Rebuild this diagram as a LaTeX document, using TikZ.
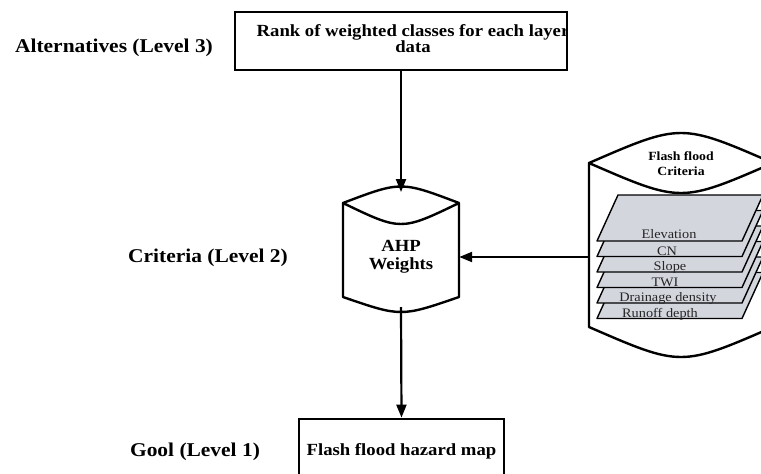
\documentclass[tikz,border=0pt]{standalone}
\usepackage{fontspec}
\setmainfont{Liberation Serif}[FakeStretch=1.1]
\usetikzlibrary{arrows.meta}
\definecolor{plategray}{RGB}{212,214,222}
\tikzset{
  levellabel/.style={font=\bfseries\fontsize{19.5}{22}\selectfont, anchor=base},
  box/.style={draw, line width=2.8pt, inner sep=0pt},
  arr/.style={line width=2.2pt, -{Triangle[length=13pt,width=10pt]}},
  plate/.style={draw, line width=1.4pt, fill=plategray, line join=round},
  platelabel/.style={font=\fontsize{13}{13}\selectfont, anchor=base, text=black!85},
}
\begin{document}
\begin{tikzpicture}[x=1pt,y=-1pt]
\useasboundingbox (0,0) rectangle (761,474);
% level labels
\node[levellabel] (alt) at (114,52) {Alternatives (Level 3)};
\node[levellabel] (crit) at (208,262) {Criteria (Level 2)};
\node[levellabel] (goal) at (195,456) {Gool (Level 1)};

% top box, its text runs into the right border
\begin{scope}
\clip (235,12) rectangle (567,70);
\node[font=\bfseries\fontsize{17}{15.5}\selectfont, align=center] (ranktext) at (413,38.5) {Rank of weighted classes for each layer\\data};
\end{scope}
\node[box, minimum width=332pt, minimum height=58pt] (rank) at (401,41) {};

% AHP cylinder
\coordinate (ahptop) at (401,192);
\coordinate (ahpbot) at (401,307);
\draw[line width=2.4pt, line join=round] (343,203) .. controls (401,181) .. (459,203) .. controls (401,231) .. (343,203) -- (343,297) .. controls (401,317) .. (459,297) -- (459,203);
\node[font=\bfseries\fontsize{17}{18}\selectfont, align=center, minimum width=116pt, inner sep=0pt] (ahp) at (401,257) {AHP\\Weights};

% flash flood criteria cylinder
\draw[line width=2.4pt, line join=round] (589,163) .. controls (681,123) .. (773,163) .. controls (681,203) .. (589,163) -- (589,327) .. controls (681,367) .. (773,327);
\node[font=\bfseries\fontsize{12.5}{15}\selectfont, align=center] (fftitle) at (681,164) {Flash flood\\Criteria};
\coordinate (critout) at (589,257);

% stacked layers, lowest first
\foreach \b in {318.5,303,287.5,272,256.5,241}
  \draw[plate] (597,\b) -- (742,\b) -- (763,\b-46) -- (618,\b-46) -- cycle;
\node[platelabel] (elev) at (669,238) {Elevation};
\node[platelabel] (cn) at (667,255) {CN};
\node[platelabel] (slope) at (670,270.5) {Slope};
\node[platelabel] (twi) at (665,286) {TWI};
\node[platelabel] (drain) at (668,301) {Drainage density};
\node[platelabel] (runoff) at (660,317) {Runoff depth};

% goal box
\node[box, minimum width=205pt, minimum height=70pt, font=\bfseries\fontsize{17}{18}\selectfont, text height=12pt, text depth=10pt] (hazard) at (401.5,454) {Flash flood hazard map};

% connectors
\draw[arr] (rank.south) -- (ahptop);
\draw[arr] (critout) -- (ahp.east);
\draw[arr] (ahpbot) -- (hazard.north);
\end{tikzpicture}
\end{document}
